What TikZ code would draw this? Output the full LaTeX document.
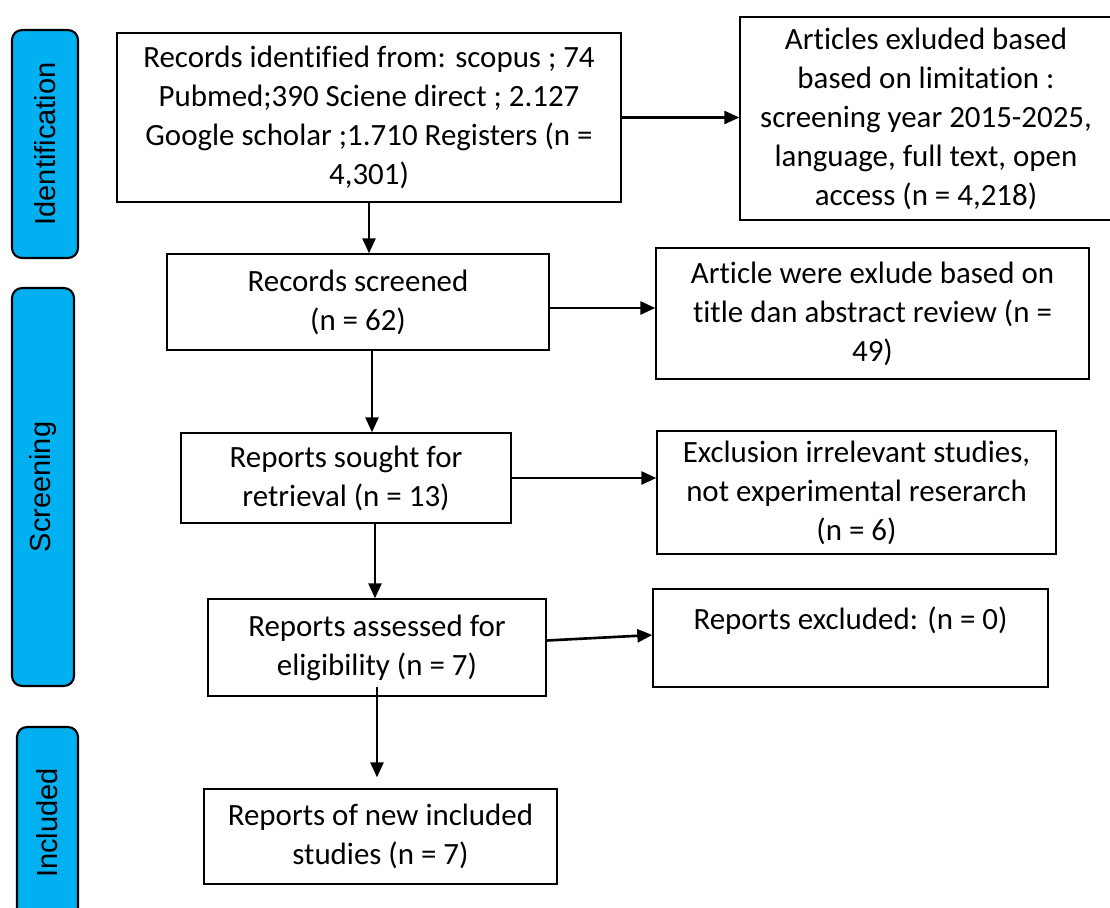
\documentclass[tikz,border=0pt]{standalone}
\usepackage{fontspec}
\setmainfont[Ligatures=NoCommon]{Carlito}
\newfontfamily\pillfont{Liberation Sans}
\usetikzlibrary{arrows.meta}
\definecolor{pillblue}{HTML}{00B0F0}
\begin{document}
\begin{tikzpicture}[x=0.02cm, y=-0.02cm,
    main box/.style={draw, line width=0.8pt, align=center, inner sep=2pt,
                     font=\fontsize{17.6pt}{22.2pt}\selectfont},
    pill/.style={draw, line width=1.2pt, fill=pillblue, rounded corners=0.2cm,
                 rotate=90, inner sep=0pt, font=\pillfont\fontsize{16.5pt}{19pt}\selectfont},
    arr/.style={-{Triangle[length=0.3cm, width=0.26cm]}, line width=1.5pt}]

  \useasboundingbox (0,0) rectangle (1110,907);
  \clip (0,0) rectangle (1110,907);

  % stage labels
  \node[pill, minimum width=4.56cm, minimum height=1.32cm] (pid) at (45,144) {Identification};
  \node[pill, minimum width=7.96cm, minimum height=1.24cm] (pscr) at (43,487) {Screening};
  \node[pill, minimum width=3.84cm, minimum height=1.22cm] (pinc) at (47.5,823) {Included};

  % main column
  \node[main box, minimum width=10.08cm, minimum height=3.38cm] (ident) at (369,117.5)
    {Records identified from: scopus ; 74\\ Pubmed;390 Sciene direct ; 2.127\\
     Google scholar ;1.710 Registers (n =\\ 4,301)};
  \node[main box, minimum width=7.64cm, minimum height=1.92cm] (scr) at (358,302)
    {Records screened\\ (n = 62)};
  \node[main box, minimum width=6.6cm, minimum height=1.8cm] (sought) at (346,478)
    {Reports sought for\\ retrieval (n = 13)};
  \node[main box, minimum width=6.76cm, minimum height=1.94cm] (assess) at (377,647.5)
    {Reports assessed for\\ eligibility (n = 7)};
  \node[main box, minimum width=7.06cm, minimum height=1.9cm] (incl) at (380.5,836.5)
    {Reports of new included\\ studies (n = 7)};

  % exclusions
  \node[main box, minimum width=7.44cm, minimum height=4.06cm] (art) at (926,118.5)
    {Articles exluded based\\ based on limitation :\\ screening year 2015-2025,\\
     language, full text, open\\ access (n = 4,218)};
  \node[main box, minimum width=8.66cm, minimum height=2.62cm] (artw) at (872.5,313.5)
    {Article were exlude based on\\ title dan abstract review (n =\\ 49)};
  \node[main box, minimum width=7.98cm, minimum height=2.46cm] (excl) at (856.5,492.5)
    {Exclusion irrelevant studies,\\ not experimental reserarch\\ (n = 6)};
  \node[main box, minimum width=7.9cm, minimum height=1.96cm] (repx) at (850.5,638)
    {Reports excluded: (n = 0)\\ \mbox{}};

  \draw[arr] (ident.east) -- (ident.east -| art.west);
  \draw[arr] (ident.south) -- (ident.south |- scr.north);
  \draw[arr] ([yshift=-0.12cm]scr.east) -- ([yshift=-0.12cm]scr.east -| artw.west);
  \draw[arr] ([xshift=0.28cm]scr.south) -- ([xshift=0.28cm]scr.south |- sought.north);
  \draw[arr] (sought.east) -- (sought.east -| excl.west);
  \draw[arr] ([xshift=0.58cm]sought.south) -- ([xshift=0.58cm]sought.south |- assess.north);
  \draw[arr] ([yshift=0.14cm]assess.east) -- ([yshift=0.06cm]repx.west);
  \draw[arr] ([yshift=0.2cm]assess.south) -- ([yshift=0.22cm]assess.south |- incl.north);

\end{tikzpicture}
\end{document}
